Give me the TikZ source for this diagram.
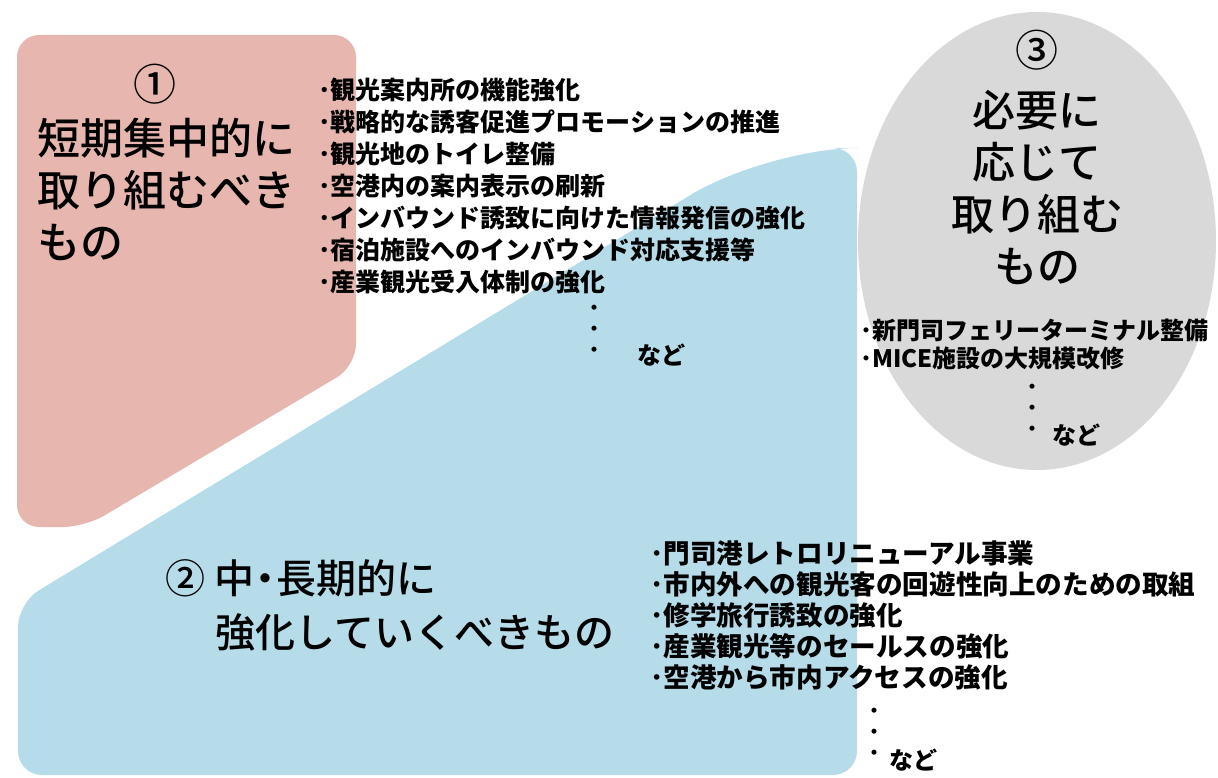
\documentclass[tikz,border=0pt]{standalone}
\usepackage{fontspec}
\setmainfont{Noto Sans CJK JP}
\newfontfamily\jpmed{Noto Sans CJK JP Medium}
\usetikzlibrary{positioning}
\definecolor{pinkbox}{RGB}{230,182,175}
\definecolor{bluebox}{RGB}{181,220,232}
\definecolor{graybox}{RGB}{217,217,217}
\tikzset{
  title/.style={font=\jpmed\fontsize{43}{52}\selectfont, inner sep=0pt},
  items/.style={font=\bfseries\fontsize{25}{32}\selectfont, align=left, inner sep=0pt, anchor=west},
  dots/.style={font=\bfseries\fontsize{18}{21}\selectfont, align=center, inner sep=0pt, anchor=north},
  etc/.style={font=\bfseries\fontsize{24}{28}\selectfont, inner sep=0pt, anchor=west}
}
\begin{document}
\begin{tikzpicture}[x=1pt,y=-1pt]
\useasboundingbox (0,0) rectangle (1218,778);
\fill[white] (0,0) rectangle (1218,778);
% areas
\fill[pinkbox] (186,35) [rounded corners=22] -- (356,35) -- (356,366) -- (85,527) -- (17,527) -- (17,35) -- cycle;
\fill[bluebox] (437,775) [rounded corners=24] -- (18,775) -- (18,603) [rounded corners=90] -- (768,148) [rounded corners=24] -- (857,148) -- (857,775) -- cycle;
\fill[graybox] (1037,241) ellipse [x radius=179pt, y radius=229pt];
% (1)
\node[title] (numA) at (155,84) {①};
\node[title, align=left, anchor=west] (titleA) at (37,189) {短期集中的に\\取り組むべき\\もの};
\node[items] (listA) at (318,186) {･観光案内所の機能強化\\･戦略的な誘客促進プロモーションの推進\\･観光地のトイレ整備\\･空港内の案内表示の刷新\\･インバウンド誘致に向けた情報発信の強化\\･宿泊施設へのインバウンド対応支援等\\･産業観光受入体制の強化};
\node[dots] (dotsA) at (594,305) {・\\・\\・};
\node[etc] (etcA) at (637,355) {など};
% (2)
\node[title, font=\jpmed\fontsize{40}{54}\selectfont, align=left, anchor=west] (titleB) at (165,605) {② 中\hspace{-9pt}・\hspace{-9pt}長期的に\\\hspace*{50pt}強化していくべきもの};
\node[items, font=\bfseries\fontsize{26.6}{31}\selectfont] (listB) at (650,615) {･門司港レトロリニューアル事業\\･市内外への観光客の回遊性向上のための取組\\･修学旅行誘致の強化\\･産業観光等のセールスの強化\\･空港から市内アクセスの強化};
\node[dots] (dotsB) at (874,708) {・\\・\\・};
\node[etc] (etcB) at (889,760) {など};
% (3)
\node[title] (numC) at (1037,50) {③};
\node[title, align=center] (titleC) at (1037,188) {必要に\\応じて\\取り組む\\もの};
\node[items, font=\bfseries\fontsize{24}{28}\selectfont] (listC) at (860,344) {･新門司フェリーターミナル整備\\･MICE施設の大規模改修};
\node[dots] (dotsC) at (1032,384) {・\\・\\・};
\node[etc] (etcC) at (1052,435) {など};
\end{tikzpicture}
\end{document}
